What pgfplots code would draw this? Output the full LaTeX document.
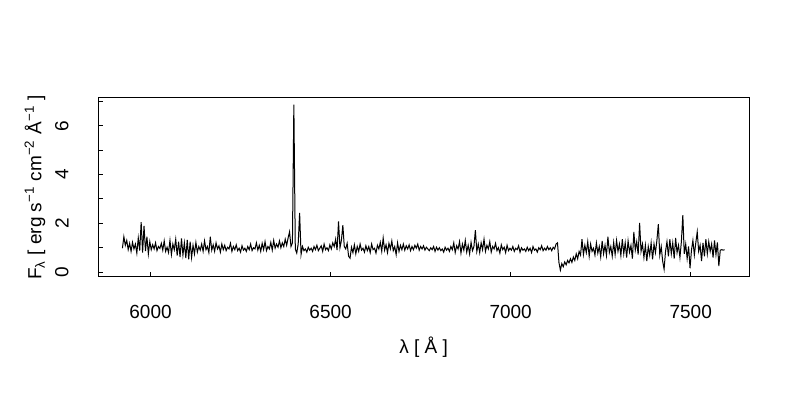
\documentclass[border=0pt]{standalone}
\usepackage{fontspec}
\setmainfont{Liberation Sans}
\usepackage{pgfplots}
\pgfplotsset{compat=1.18}
\begin{document}
\begin{tikzpicture}
\useasboundingbox (-49.15pt,-61.5pt) rectangle (350.85pt,138.5pt);
\begin{axis}[
  scale only axis,
  width=325.4pt, height=89.5pt,
  xmin=5855, xmax=7662, ymin=-0.2, ymax=7.14,
  axis line style={black, line width=0.5pt},
  tick align=inside, xtick pos=left, ytick pos=left,
  major tick length=2.5pt, minor tick length=2.5pt,
  tick style={black, line width=0.5pt},
  xtick={6000,6500,7000,7500},
  ytick={0,2,4,6}, minor ytick={1,3,5,7},
  /pgf/number format/assume math mode=true,
  /pgf/number format/1000 sep={},
  tick label style={font=\fontsize{9.5}{11}\selectfont},
  xticklabel style={anchor=center, yshift=-17.5pt},
  yticklabel style={xshift=-18.2pt, rotate=90, anchor=center},
  label style={font=\fontsize{9.5}{11}\selectfont},
  xlabel={λ [ Å ]},
  xlabel style={at={(axis description cs:0.5,-0.391)}, anchor=center},
  ylabel={F\textsubscript{λ} [ erg s\textsuperscript{−1} cm\textsuperscript{−2} Å\textsuperscript{−1} ]},
  ylabel style={at={(axis description cs:-0.0973,0.5)}, anchor=center},
]
\addplot[black, line width=0.5pt] coordinates {
(5922,0.98)(5926,1.45)(5930,1.10)(5934,1.30)(5938,0.92)(5942,1.18)(5946,0.85)(5950,1.22)(5954,0.95)(5958,1.15)
(5962,0.78)(5966,1.40)(5970,0.88)(5974,2.05)(5978,0.80)(5982,1.90)(5986,0.86)(5990,1.45)(5994,0.75)(5998,1.25)
(6002,0.92)(6006,1.12)(6010,0.95)(6014,1.20)(6018,0.88)(6022,1.05)(6026,0.97)(6030,1.18)(6034,0.90)(6038,1.28)
(6042,0.85)(6046,1.02)(6050,0.80)(6054,1.30)(6058,0.72)(6062,1.15)(6066,0.92)(6070,1.35)(6074,0.68)(6078,1.25)
(6082,0.62)(6086,1.38)(6090,0.70)(6094,1.20)(6098,0.58)
(6102,1.32)(6106,0.52)(6110,1.25)(6114,0.60)(6118,1.10)(6122,0.75)(6126,1.22)(6130,0.82)(6134,1.05)(6138,0.90)
(6142,1.15)(6146,0.85)(6150,1.28)(6154,0.92)(6158,1.05)(6162,0.80)(6166,1.45)(6170,0.90)(6174,1.12)(6178,0.85)
(6182,1.20)(6186,0.95)(6190,1.08)(6194,0.82)(6198,1.15)
(6202,0.92)(6206,1.10)(6210,0.88)(6214,1.02)(6218,0.95)(6222,1.18)(6226,0.85)(6230,1.05)(6234,0.92)(6238,1.12)
(6242,0.88)(6246,0.98)(6250,0.82)(6254,1.08)(6258,0.90)(6262,0.98)(6266,0.85)(6270,1.05)(6274,0.92)(6278,1.15)
(6282,0.88)(6286,1.00)(6290,0.95)(6294,1.20)(6298,0.90)
(6302,1.10)(6306,0.85)(6310,1.18)(6314,0.92)(6318,1.25)(6322,0.88)(6326,1.05)(6330,0.95)(6334,1.22)(6338,0.90)
(6342,1.30)(6346,0.98)(6350,1.15)(6354,1.02)(6358,1.28)(6362,1.00)(6366,1.20)(6370,1.05)(6374,1.35)(6378,1.10)
(6382,1.40)(6386,1.65)(6390,1.05)(6394,1.20)(6398,6.87)
(6402,0.95)(6406,0.78)(6410,1.15)(6414,2.43)(6418,0.72)(6422,1.05)(6426,0.88)(6430,0.95)(6434,0.82)(6438,1.02)
(6442,0.90)(6446,0.98)(6450,0.85)(6454,1.05)(6458,0.92)(6462,1.10)(6466,0.88)(6470,0.98)(6474,1.08)(6478,0.85)
(6482,1.15)(6486,0.92)(6490,1.00)(6494,0.88)(6498,1.12)
(6502,0.95)(6506,1.20)(6510,1.05)(6514,1.35)(6518,0.90)(6522,2.08)(6526,1.00)(6530,1.30)(6534,1.93)(6538,1.05)
(6542,0.95)(6546,1.18)(6550,0.65)(6554,0.57)(6558,1.02)(6562,0.80)(6566,1.12)(6570,0.75)(6574,1.05)(6578,0.85)
(6582,1.15)(6586,0.90)(6590,0.98)(6594,0.82)(6598,1.08)
(6602,0.88)(6606,1.05)(6610,0.80)(6614,1.15)(6618,0.92)(6622,0.98)(6626,0.78)(6630,1.10)(6634,0.95)(6638,1.22)
(6642,0.85)(6646,1.40)(6650,0.90)(6654,1.12)(6658,0.80)(6662,1.18)(6666,0.95)(6670,1.28)(6674,0.88)(6678,1.05)
(6682,0.72)(6686,1.20)(6690,0.85)(6694,1.10)(6698,0.92)
(6702,1.15)(6706,0.90)(6710,1.08)(6714,0.95)(6718,1.12)(6722,0.88)(6726,1.05)(6730,0.92)(6734,1.10)(6738,0.98)
(6742,1.15)(6746,0.90)(6750,1.05)(6754,0.95)(6758,1.08)(6762,0.90)(6766,1.02)(6770,0.95)(6774,0.88)(6778,1.00)
(6782,0.92)(6786,1.05)(6790,0.85)(6794,1.02)(6798,0.90)
(6802,1.00)(6806,0.88)(6810,0.95)(6814,0.82)(6818,1.02)(6822,0.90)(6826,0.98)(6830,0.85)(6834,1.05)(6838,0.92)
(6842,1.20)(6846,0.80)(6850,1.08)(6854,0.95)(6858,1.25)(6862,0.78)(6866,1.15)(6870,0.90)(6874,1.30)(6878,0.82)
(6882,1.10)(6886,0.75)(6890,1.22)(6894,0.88)(6898,1.05)(6902,1.72)
(6906,0.85)(6910,1.15)(6914,0.80)(6918,1.20)(6922,0.92)(6926,1.35)(6930,0.85)(6934,1.10)(6938,0.95)(6942,1.25)
(6946,0.82)(6950,1.05)(6954,0.95)(6958,1.18)(6962,0.88)(6966,1.00)(6970,0.78)(6974,1.12)(6978,0.92)(6982,1.02)
(6986,0.80)(6990,1.10)(6994,0.88)(6998,0.98)
(7002,0.90)(7006,1.05)(7010,0.85)(7014,0.98)(7018,0.92)(7022,1.08)(7026,0.82)(7030,1.00)(7034,0.90)(7038,0.95)
(7042,0.85)(7046,1.02)(7050,0.88)(7054,0.98)(7058,0.80)(7062,1.05)(7066,0.90)(7070,0.95)(7074,0.82)(7078,1.00)
(7082,0.92)(7086,1.08)(7090,0.88)(7094,0.98)(7098,0.90)(7102,1.05)(7106,0.92)(7110,1.00)(7114,0.88)(7118,1.02)
(7122,0.95)(7126,1.15)(7130,1.20)(7134,0.40)(7138,0.08)
(7142,0.35)(7146,0.22)(7150,0.42)(7154,0.30)(7158,0.48)(7162,0.38)(7166,0.55)(7170,0.40)(7174,0.62)(7178,0.48)
(7182,0.75)(7186,0.55)(7190,0.85)(7194,0.70)(7198,1.35)
(7202,0.72)(7206,1.10)(7210,0.80)(7214,1.25)(7218,0.65)(7222,1.15)(7226,0.85)(7230,0.98)(7234,0.70)(7238,1.20)
(7242,0.78)(7246,1.05)(7250,0.62)(7254,1.28)(7258,0.75)(7262,1.10)(7266,0.68)(7270,1.45)(7274,0.80)(7278,1.05)
(7282,0.65)(7286,1.22)(7290,0.72)(7294,1.30)(7298,0.85)
(7302,1.15)(7306,0.68)(7310,1.35)(7314,0.75)(7318,1.20)(7322,0.60)(7326,1.28)(7330,0.82)(7334,1.10)(7338,0.55)
(7342,1.65)(7346,0.90)(7350,1.25)(7354,0.72)(7358,2.02)(7362,0.85)(7366,1.15)(7370,0.60)(7374,1.10)(7378,0.45)
(7382,1.05)(7386,0.70)(7390,1.20)(7394,0.52)(7398,1.15)
(7402,0.80)(7406,1.30)(7410,1.97)(7414,0.70)(7418,1.05)(7422,0.45)(7426,0.12)(7430,0.85)(7434,1.25)(7438,0.65)
(7442,1.35)(7446,0.75)(7450,1.20)(7454,0.55)(7458,1.40)(7462,0.80)(7466,1.10)(7470,0.60)(7474,1.25)(7478,2.34)
(7482,0.75)(7486,1.15)(7490,0.55)(7494,1.05)(7498,0.16)
(7502,0.90)(7506,1.30)(7510,0.70)(7514,1.20)(7518,1.65)(7522,0.85)(7526,1.10)(7530,0.45)(7534,1.20)(7538,0.65)
(7542,1.35)(7546,0.75)(7550,1.25)(7554,0.85)(7558,1.15)(7562,0.60)(7566,1.30)(7570,0.72)(7574,1.22)(7578,0.25)
(7582,0.90)(7586,0.92)(7590,0.90)(7594,0.92)
};
\end{axis}
\end{tikzpicture}
\end{document}
